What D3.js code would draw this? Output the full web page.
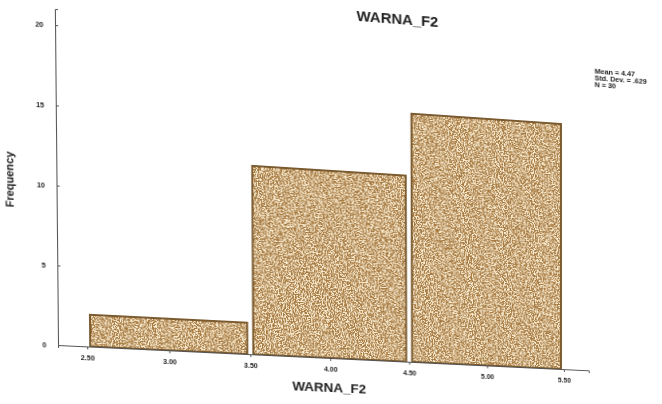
<!DOCTYPE html>
<html>
<head>
<meta charset="utf-8">
<script src="https://cdn.jsdelivr.net/npm/d3@7"></script>
<style>
body { margin: 0; background: #fff; overflow: hidden; width: 662px; height: 404px; }
#chart { position: absolute; left: 0; top: 0; transform-origin: 0 0; overflow: visible; }
text { font-family: "Liberation Sans", Arial, sans-serif; fill: #222; }
</style>
</head>
<body>
<script>
// histogram data
const binStarts = [2.5, 3.5, 4.5]
const binEnds = [3.5, 4.5, 5.5]
const counts = [2, 12, 16]
const xTicks = [2.5, 3.0, 3.5, 4.0, 4.5, 5.0, 5.5]
const yTicks = [0, 5, 10, 15, 20]
const statLines = ['Mean = 4.47', 'Std. Dev. = .629', 'N = 30']
const varName = 'WARNA_F2'

const width = 662, height = 404
const margin = {top: 9, right: 72, bottom: 59, left: 58}

const svg = d3.select('body').append('svg')
    .attr('id', 'chart')
    .attr('width', width)
    .attr('height', height)

const xScale = d3.scaleLinear()
    .domain([2.324, 5.663])
    .range([margin.left, width - margin.right])

const yScale = d3.scaleLinear()
    .domain([0, 21])
    .range([height - margin.bottom, margin.top])

// grain texture for the bars
const defs = svg.append('defs')
const grain = defs.append('filter').attr('id', 'grain')
    .attr('x', 0).attr('y', 0).attr('width', 1).attr('height', 1)
grain.append('feTurbulence')
    .attr('type', 'fractalNoise')
    .attr('baseFrequency', 0.75)
    .attr('numOctaves', 2)
    .attr('seed', 4)
    .attr('result', 'noise')
grain.append('feColorMatrix')
    .attr('in', 'noise')
    .attr('type', 'matrix')
    .attr('values', '0 0 0 0 0.96  0 0 0 0 0.85  0 0 0 0 0.65  7 0 0 0 -3.1')
    .attr('result', 'specks')
grain.append('feComposite')
    .attr('in', 'specks')
    .attr('in2', 'SourceGraphic')
    .attr('operator', 'in')

const bins = counts.map((c, i) => ({lo: binStarts[i], hi: binEnds[i], n: c}))

svg.selectAll('.bar').data(bins)
  .enter()
  .append('rect')
    .attr('class', 'bar')
    .attr('x', d => xScale(d.lo) + 3)
    .attr('y', d => yScale(d.n))
    .attr('width', d => xScale(d.hi) - xScale(d.lo) - 6)
    .attr('height', d => yScale(0) - yScale(d.n))
    .attr('fill', '#a67a42')
    .attr('stroke', '#7a5a2e')
    .attr('stroke-width', 2)

svg.selectAll('.grain').data(bins)
  .enter()
  .append('rect')
    .attr('class', 'grain')
    .attr('x', d => xScale(d.lo) + 4)
    .attr('y', d => yScale(d.n) + 1)
    .attr('width', d => xScale(d.hi) - xScale(d.lo) - 8)
    .attr('height', d => yScale(0) - yScale(d.n) - 2)
    .attr('fill', '#000')
    .attr('filter', 'url(#grain)')

// axes
const yAxis = svg.append('g')
    .attr('transform', 'translate(' + margin.left + ',0)')
    .call(d3.axisLeft(yScale).tickValues(yTicks).tickSize(-3).tickPadding(11).tickFormat(d3.format('d')))
yAxis.select('.domain').attr('stroke', '#555')
yAxis.selectAll('.tick line').attr('stroke', '#555')
yAxis.selectAll('text').style('font-size', '7px').style('font-weight', 'bold')

const xAxis = svg.append('g')
    .attr('transform', 'translate(0,' + yScale(0) + ')')
    .call(d3.axisBottom(xScale).tickValues(xTicks).tickSize(3).tickPadding(6).tickFormat(d3.format('.2f')))
xAxis.select('.domain').attr('stroke', '#555')
xAxis.selectAll('.tick line').attr('stroke', '#555')
xAxis.selectAll('text').style('font-size', '7px').style('font-weight', 'bold')

// titles
svg.append('text')
    .attr('x', 394)
    .attr('y', -2)
    .attr('text-anchor', 'middle')
    .style('font-size', '15px')
    .style('font-weight', 'bold')
    .text(varName)

svg.append('text')
    .attr('x', (margin.left + width - margin.right) / 2)
    .attr('y', yScale(0) + 35)
    .attr('text-anchor', 'middle')
    .style('font-size', '13.5px')
    .style('font-weight', 'bold')
    .text(varName)

svg.append('text')
    .attr('transform', 'translate(17,' + yScale(10.2) + ')rotate(-90)')
    .attr('text-anchor', 'middle')
    .style('font-size', '11px')
    .style('font-weight', 'bold')
    .text('Frequency')

svg.selectAll('.stat').data(statLines)
  .enter()
  .append('text')
    .attr('x', 596)
    .attr('y', (d, i) => 34 + i * 6.8)
    .style('font-size', '7.5px')
    .style('font-weight', 'bold')
    .text(d => d)

// the reference is a photo of a printout: warp the flat chart with a homography
function homography(src, dst) {
  const A = [], b = []
  src.forEach((p, i) => {
    const [x, y] = p, [u, v] = dst[i]
    A.push([x, y, 1, 0, 0, 0, -x * u, -y * u]); b.push(u)
    A.push([0, 0, 0, x, y, 1, -x * v, -y * v]); b.push(v)
  })
  const n = 8
  for (let c = 0; c < n; c++) {
    let p = c
    for (let r = c + 1; r < n; r++) if (Math.abs(A[r][c]) > Math.abs(A[p][c])) p = r
    ;[A[c], A[p]] = [A[p], A[c]]; [b[c], b[p]] = [b[p], b[c]]
    for (let r = 0; r < n; r++) {
      if (r === c) continue
      const f = A[r][c] / A[c][c]
      for (let k = c; k < n; k++) A[r][k] -= f * A[c][k]
      b[r] -= f * b[c]
    }
  }
  return b.map((v, i) => v / A[i][i])
}

const src = [
  [margin.left, yScale(0)],
  [margin.left, yScale(20)],
  [xScale(5.5) - 3, yScale(0)],
  [xScale(5.5) - 3, yScale(16)]
]
const dst = [[58, 345], [55, 25], [561, 369], [561, 124]]
const h = homography(src, dst)
svg.style('transform', 'matrix3d(' + [h[0], h[3], 0, h[6], h[1], h[4], 0, h[7], 0, 0, 1, 0, h[2], h[5], 0, 1].join(',') + ')')
</script>
</body>
</html>
